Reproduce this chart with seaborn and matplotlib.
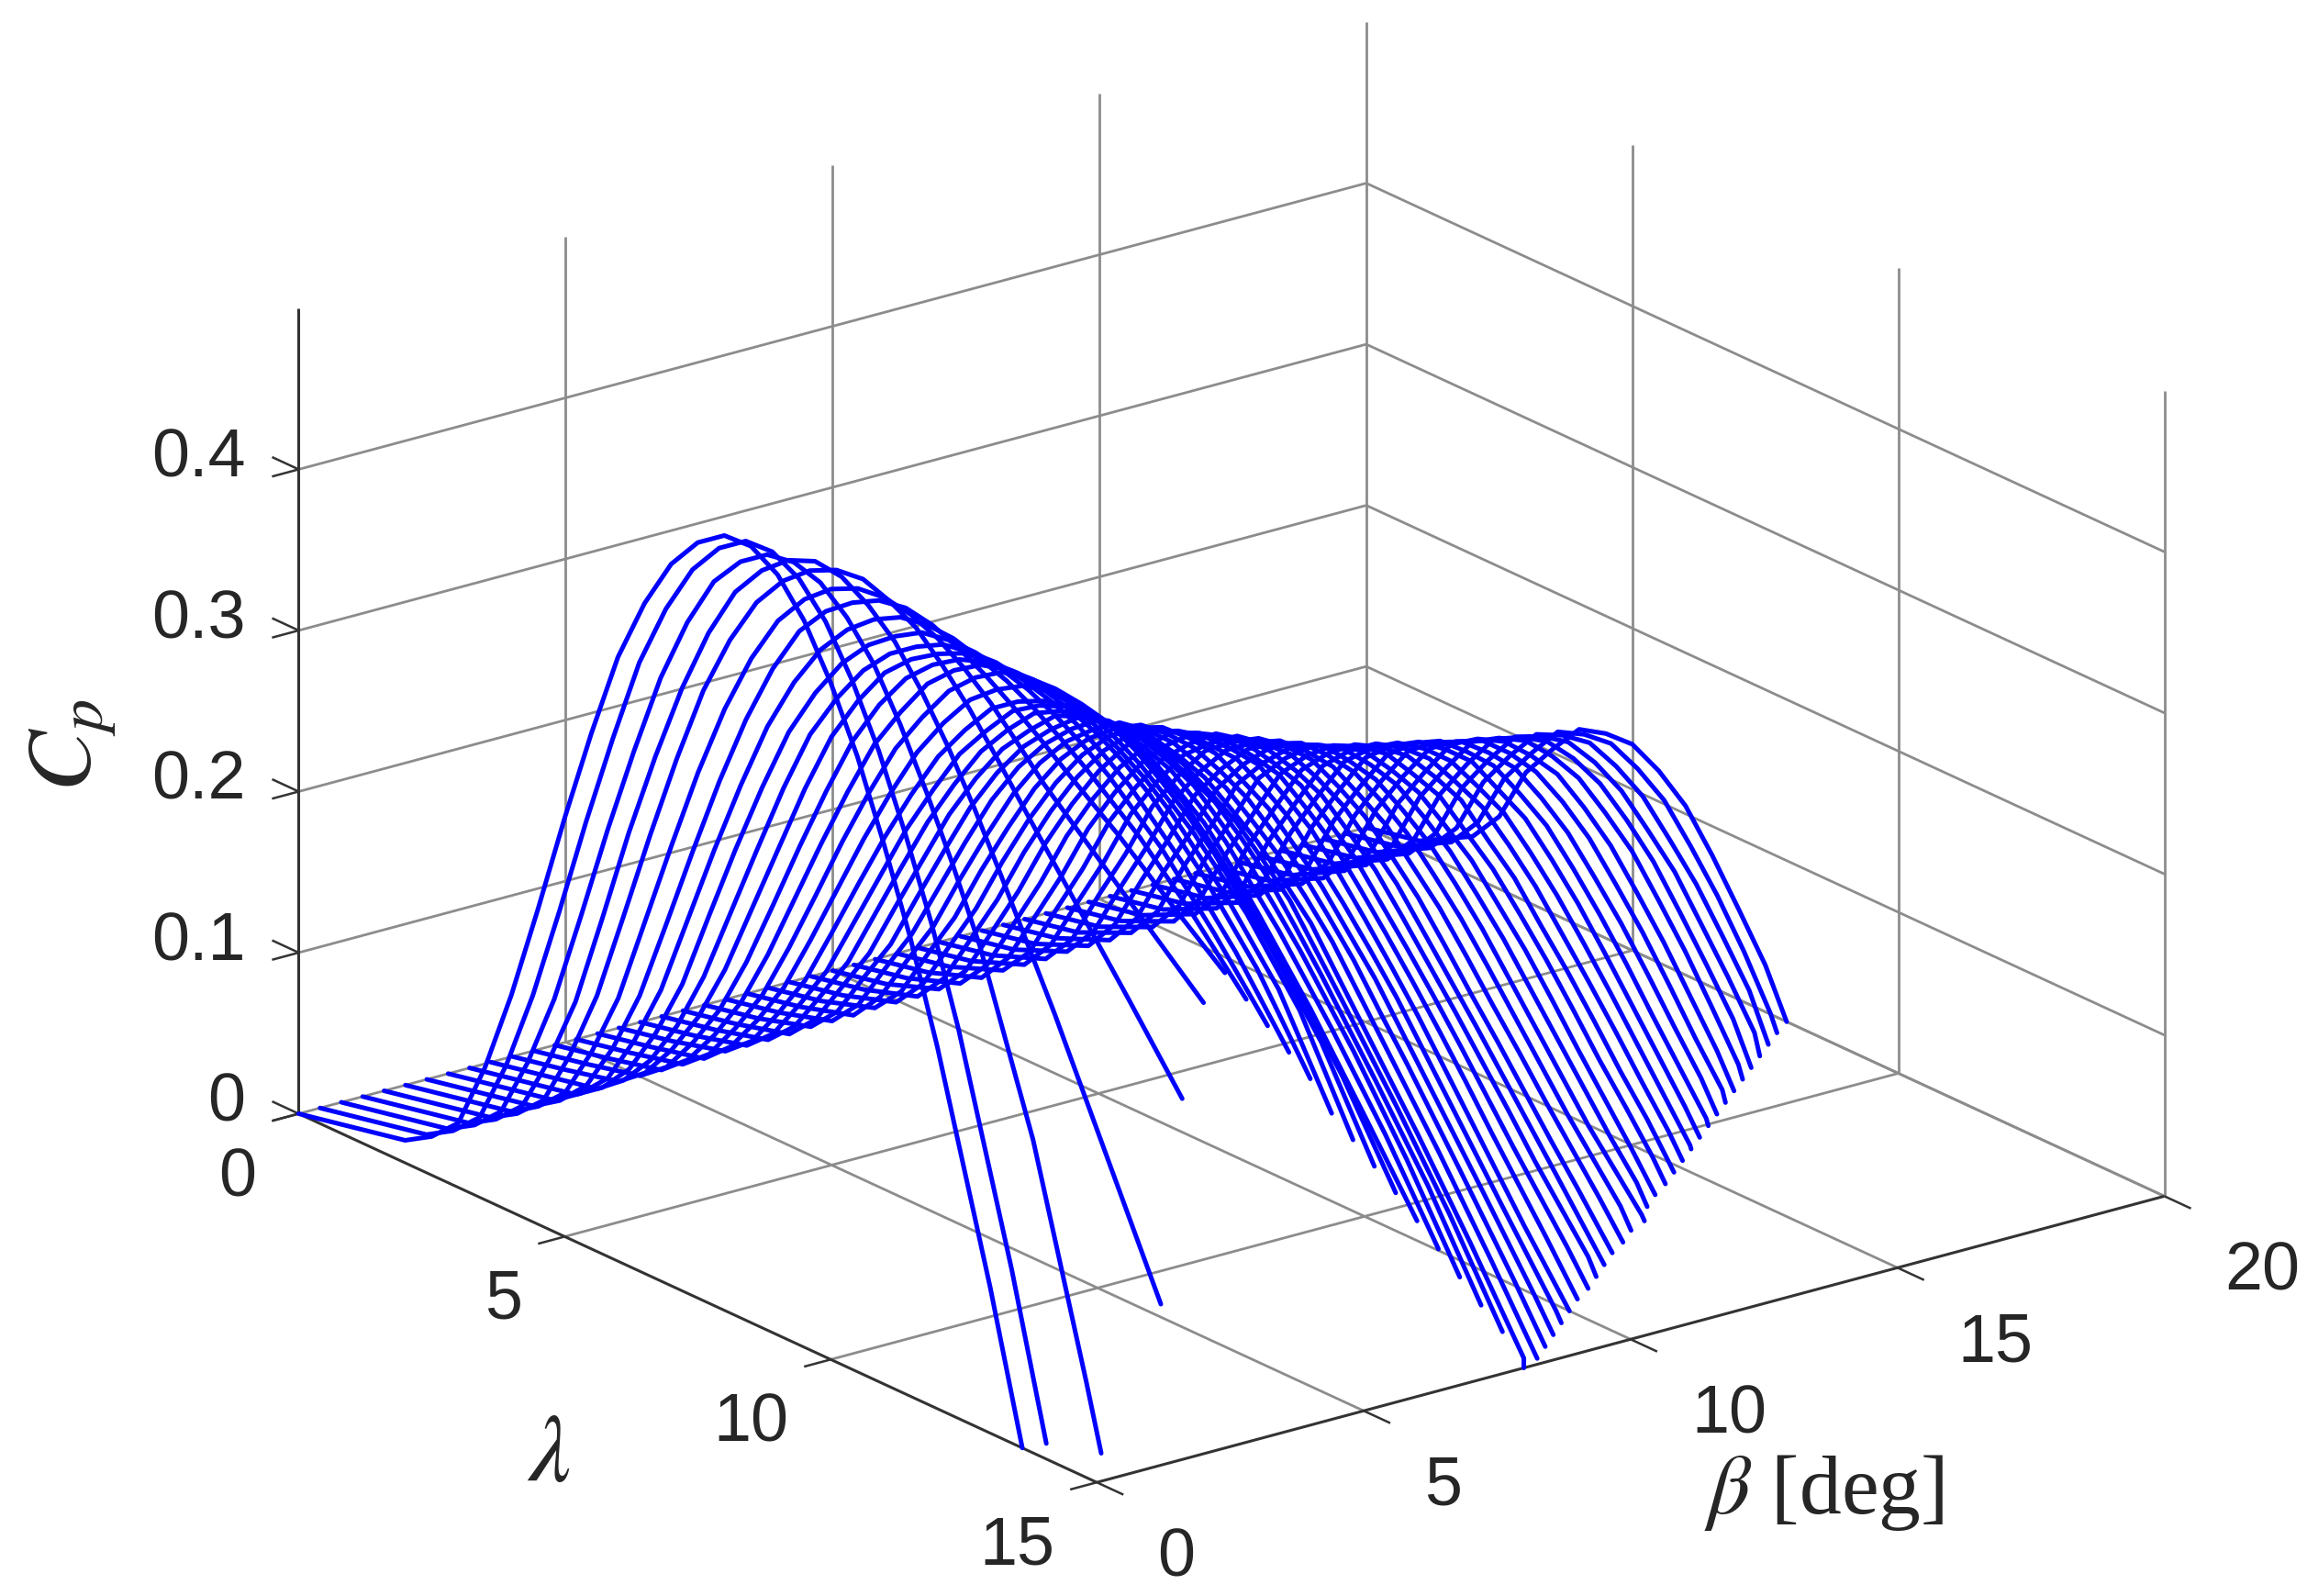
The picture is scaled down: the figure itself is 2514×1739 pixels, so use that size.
import numpy as np
import seaborn as sns
import matplotlib.pyplot as plt
from mpl_toolkits.mplot3d import proj3d

nan = np.nan

lam_grid = [0, 1, 2, 3, 4, 5, 6, 7, 8, 9, 10, 11, 12, 13, 14, 15]
lam_half = [2.5, 3.5, 4.5, 5.5, 6.5, 7.5, 8.5, 9.5, 10.5, 11.5]
beta_vals = [0.0, 0.4, 0.8, 1.2, 1.6, 2.0, 2.4, 2.8, 3.2, 3.6,
             4.0, 4.4, 4.8, 5.2, 5.6, 6.0, 6.4, 6.8, 7.2, 7.6,
             8.0, 8.4, 8.8, 9.2, 9.6, 10.0, 10.4, 10.8, 11.2, 11.6,
             12.0, 12.4, 12.8, 13.2, 13.6, 14.0, 14.4, 14.8, 15.2, 15.6,
             16.0, 16.4, 16.8, 17.2, 17.6, 18.0, 18.4, 18.8, 19.2, 19.6, 20.0]

# Cp, one row per beta, one column per lambda in lam_grid
cp_rows = [
    [0, .007, .014, .040, .135, .260, .375, .448, .481, .472, .420, .335, .225, .090, nan, nan],
    [0, .007, .014, .040, .131, .254, .368, .441, .474, .466, .418, .338, .232, .098, nan, nan],
    [0, .007, .014, .040, .125, .245, .355, .430, .462, .460, .425, .360, .280, .175, .040, nan],
    [0, .007, .014, .040, .120, .240, .345, .420, .455, .460, .435, .385, .320, .250, .175, .100],
    [0, .007, .014, .040, .120, .235, .340, .410, .445, .455, .440, .405, .360, .315, .270, .224],
    [0, .007, .014, .041, .115, .225, .325, .395, .430, .440, .430, .405, .370, .340, .310, .280],
    [0, .007, .014, .042, .113, .218, .315, .385, .418, .430, .420, .400, .375, .350, .322, .295],
    [0, .007, .014, .043, .113, .215, .307, .370, .404, .416, .410, .395, .372, .345, .312, .275],
    [0, .007, .014, .045, .113, .212, .300, .358, .390, .403, .400, .387, .365, .335, .297, .255],
    [0, .007, .014, .047, .114, .208, .295, .350, .380, .392, .390, .378, .355, .322, .282, .235],
    [0, .007, .015, .050, .115, .205, .290, .345, .372, .382, .380, .368, .345, .310, .268, .215],
    [0, .007, .015, .051, .116, .203, .284, .338, .365, .373, .370, .355, .330, .295, .252, .190],
    [0, .007, .015, .052, .117, .201, .278, .331, .358, .364, .360, .342, .315, .280, .235, .170],
    [0, .007, .015, .053, .118, .199, .272, .323, .350, .355, .349, .328, .298, .258, .212, .150],
    [0, .007, .015, .054, .119, .197, .266, .314, .338, .343, .335, .312, .277, .235, .187, .130],
    [0, .007, .016, .055, .120, .195, .260, .305, .325, .330, .320, .295, .255, .210, .160, .109],
    [0, .007, .016, .057, .122, .196, .258, .300, .318, .320, .308, .280, .240, .194, .144, .088],
    [0, .007, .016, .059, .124, .197, .256, .295, .310, .310, .296, .265, .224, .177, .125, .067],
    [0, .007, .016, .061, .126, .198, .254, .290, .302, .298, .282, .250, .205, .156, .105, .046],
    [0, .007, .017, .063, .128, .199, .252, .285, .294, .287, .266, .233, .185, .136, .084, .026],
    [0, .007, .017, .065, .130, .200, .250, .280, .285, .275, .250, .215, .165, .115, .062, .006],
    [0, .007, .017, .066, .132, .200, .248, .275, .278, .265, .238, .200, .150, .100, .047, nan],
    [0, .007, .018, .067, .134, .200, .246, .270, .271, .255, .226, .185, .136, .085, .033, nan],
    [0, .007, .018, .068, .136, .200, .244, .265, .264, .245, .212, .170, .120, .070, .019, nan],
    [0, .007, .018, .069, .138, .200, .242, .258, .257, .235, .198, .155, .105, .055, .006, nan],
    [0, .007, .019, .070, .140, .200, .240, .252, .250, .225, .185, .140, .090, .040, nan, nan],
    [0, .007, .019, .071, .141, .199, .236, .246, .240, .213, .172, .127, .078, .030, nan, nan],
    [0, .007, .019, .072, .142, .198, .232, .240, .230, .201, .159, .114, .066, .020, nan, nan],
    [0, .007, .020, .073, .143, .197, .228, .233, .220, .189, .146, .101, .054, .010, nan, nan],
    [0, .007, .020, .074, .144, .196, .223, .227, .210, .177, .133, .088, .042, nan, nan, nan],
    [0, .007, .020, .075, .145, .195, .218, .220, .200, .165, .120, .075, .030, nan, nan, nan],
    [0, .007, .021, .076, .145, .192, .213, .212, .191, .155, .110, .065, .021, nan, nan, nan],
    [0, .007, .021, .077, .145, .189, .208, .205, .182, .145, .100, .054, .012, nan, nan, nan],
    [0, .007, .021, .078, .145, .186, .203, .197, .173, .135, .089, .043, .003, nan, nan, nan],
    [0, .007, .022, .079, .145, .183, .197, .190, .164, .125, .079, .033, nan, nan, nan, nan],
    [0, .007, .022, .080, .145, .180, .192, .182, .155, .115, .068, .022, nan, nan, nan, nan],
    [0, .007, .022, .080, .144, .177, .187, .176, .146, .105, .058, .013, nan, nan, nan, nan],
    [0, .007, .023, .081, .143, .174, .182, .170, .137, .094, .047, nan, nan, nan, nan, nan],
    [0, .007, .023, .081, .142, .171, .177, .162, .128, .084, .037, nan, nan, nan, nan, nan],
    [0, .007, .023, .082, .141, .168, .172, .155, .119, .074, .026, nan, nan, nan, nan, nan],
    [0, .007, .024, .082, .140, .165, .168, .148, .110, .063, .015, nan, nan, nan, nan, nan],
    [0, .007, .024, .082, .138, .162, .162, .140, .100, .052, .004, nan, nan, nan, nan, nan],
    [0, .007, .024, .082, .137, .158, .157, .132, .091, .042, nan, nan, nan, nan, nan, nan],
    [0, .007, .024, .082, .135, .155, .151, .125, .082, .031, nan, nan, nan, nan, nan, nan],
    [0, .007, .025, .082, .134, .151, .146, .117, .072, .020, nan, nan, nan, nan, nan, nan],
    [0, .007, .025, .082, .132, .148, .140, .110, .063, .008, nan, nan, nan, nan, nan, nan],
    [0, .007, .025, .081, .130, .144, .133, .100, .051, nan, nan, nan, nan, nan, nan, nan],
    [0, .007, .025, .081, .128, .140, .125, .090, .040, nan, nan, nan, nan, nan, nan, nan],
    [0, .007, .025, .081, .126, .136, .118, .079, .028, nan, nan, nan, nan, nan, nan, nan],
    [0, .007, .025, .080, .124, .132, .112, .068, .010, nan, nan, nan, nan, nan, nan, nan],
    [0, .007, .025, .080, .122, .128, .105, .056, nan, nan, nan, nan, nan, nan, nan, nan],
]

# same curves at the half steps in lam_half
cp_half = [
    [.024, .082, .196, .320, .416, .469, .482, .451, .382, .284],
    [.024, .080, .191, .313, .409, .462, .475, .447, .382, .289],
    [.024, .078, .184, .302, .397, .450, .465, .446, .395, .322],
    [.024, .076, .179, .295, .387, .441, .462, .450, .412, .354],
    [.024, .076, .177, .290, .379, .431, .453, .449, .424, .383],
    [.025, .074, .170, .278, .364, .416, .438, .437, .419, .388],
    [.025, .073, .165, .269, .354, .405, .427, .427, .411, .388],
    [.026, .074, .164, .263, .342, .390, .413, .415, .404, .384],
    [.026, .075, .163, .258, .332, .377, .400, .403, .395, .377],
    [.027, .076, .161, .254, .325, .368, .389, .393, .385, .367],
    [.028, .078, .160, .250, .320, .361, .380, .383, .375, .358],
    [.028, .079, .159, .245, .314, .354, .371, .373, .364, .344],
    [.029, .080, .159, .241, .306, .347, .363, .363, .352, .329],
    [.029, .081, .158, .237, .299, .339, .354, .353, .340, .314],
    [.030, .082, .158, .233, .292, .328, .342, .340, .324, .295],
    [.030, .083, .158, .229, .284, .317, .329, .326, .308, .276],
    [.031, .085, .159, .228, .280, .311, .320, .315, .295, .260],
    [.032, .087, .161, .228, .277, .304, .311, .304, .281, .245],
    [.033, .089, .162, .228, .273, .297, .301, .291, .267, .228],
    [.034, .091, .164, .228, .270, .291, .291, .277, .250, .209],
    [.035, .094, .166, .228, .267, .284, .281, .263, .233, .190],
    [.036, .095, .167, .227, .263, .278, .272, .252, .220, .175],
    [.036, .097, .168, .226, .260, .272, .264, .241, .206, .160],
    [.037, .099, .170, .225, .257, .266, .255, .229, .191, .145],
    [.037, .101, .171, .224, .252, .258, .247, .217, .177, .130],
    [.038, .103, .172, .223, .248, .252, .238, .206, .163, .115],
    [.038, .104, .172, .220, .243, .244, .227, .193, .150, .103],
    [.039, .105, .172, .217, .238, .236, .216, .180, .137, .090],
    [.039, .106, .172, .214, .232, .228, .205, .168, .124, .078],
    [.040, .107, .172, .211, .226, .220, .194, .155, .111, .065],
    [.040, .108, .172, .208, .221, .211, .183, .143, .098, .052],
    [.041, .109, .171, .204, .214, .202, .173, .133, .088, .043],
    [.042, .110, .169, .200, .208, .195, .164, .123, .077, .033],
    [.042, .110, .168, .196, .201, .186, .155, .112, .066, .023],
    [.043, .111, .166, .192, .195, .178, .145, .102, .056, .012],
    [.043, .112, .165, .188, .188, .169, .135, .092, .045, nan],
    [.044, .112, .163, .184, .182, .161, .126, .082, .036, nan],
    [.044, .112, .161, .180, .177, .153, .115, .071, .025, nan],
    [.045, .112, .159, .176, .170, .146, .106, .061, .014, nan],
    [.045, .112, .157, .172, .164, .138, .097, .050, .002, nan],
    [.045, .112, .155, .168, .158, .130, .087, .039, nan, nan],
    [.045, .111, .153, .163, .152, .121, .077, .028, nan, nan],
    [.045, .111, .150, .159, .146, .112, .067, .018, nan, nan],
    [.045, .110, .147, .155, .140, .104, .057, .007, nan, nan],
    [.045, .109, .145, .150, .133, .095, .046, nan, nan, nan],
    [.045, .108, .142, .146, .126, .087, .036, nan, nan, nan],
    [.045, .107, .139, .141, .118, .076, .025, nan, nan, nan],
    [.045, .106, .136, .135, .108, .065, .013, nan, nan, nan],
    [.045, .105, .133, .129, .099, .054, nan, nan, nan, nan],
    [.045, .103, .130, .124, .091, .041, nan, nan, nan, nan],
    [.045, .102, .127, .119, .082, .029, nan, nan, nan, nan],
]

# lambda where each curve reaches Cp = 0 (nan: curve runs on to lambda = 15)
lam_end = [13.6, 13.65, 14.28, nan, nan, nan, nan, nan, nan, nan,
           nan, nan, nan, nan, nan, nan, nan, nan, nan, nan,
           15.0, 14.85, 14.6, 14.35, 14.1, 13.85, 13.6, 13.4, 13.15, 12.9,
           12.65, 12.45, 12.2, 12.05, 11.7, 11.45, 11.24, 11.0, 10.76, 10.52,
           10.28, 10.04, 9.8, 9.56, 9.32, 9.08, 8.84, 8.6, 8.36, 8.12, 7.9]

lam_ticks = [0, 5, 10, 15]
beta_ticks = [0, 5, 10, 15, 20]
cp_ticks = [0, 0.1, 0.2, 0.3, 0.4]
cp_tick_labels = ['0', '0.1', '0.2', '0.3', '0.4']

sns.set_theme(style='white')
plt.rcParams['font.family'] = ['Liberation Sans', 'DejaVu Sans']
plt.rcParams['mathtext.fontset'] = 'stix'

BLUE = sns.color_palette(['#0000ff'])[0]
GRID = '#8c8c8c'
AXIS = '#333333'
TEXT = '#262626'
W, H = 2514, 1739

fig = plt.figure(figsize=(12.57, 8.695), dpi=200)
ax = fig.add_axes([0, 0, 1, 1], projection='3d', proj_type='ortho')
ax.computed_zorder = False
ax.set_xlim(0, 15, view_margin=0)
ax.set_ylim(0, 20, view_margin=0)
ax.set_zlim(0, 0.5, view_margin=0)
ax.view_init(elev=20.6, azim=-37.3)
aspect = (894, 911, 584)
ax.set_box_aspect(aspect, zoom=1)
ax.set_axis_off()


def to_px(x, y, z):
    px, py, _ = proj3d.proj_transform(x, y, z, ax.get_proj())
    return ax.transData.transform((px, py))


# fit the box onto the picture: origin corner and length of the lambda axis
fig.canvas.draw()
cur = np.linalg.norm(to_px(15, 0, 0) - to_px(0, 0, 0))
ax.set_box_aspect(aspect, zoom=958 / cur)
fig.canvas.draw()
o = to_px(0, 0, 0)
ax.set_position([(325.5 - o[0]) / W, (525.5 - o[1]) / H, 1, 1])
fig.canvas.draw()


def seg(xs, ys, zs, color=GRID, lw=1.0, z=1):
    ax.plot(xs, ys, zs, color=color, lw=lw, zorder=z, clip_on=False, solid_capstyle='butt')


def label(x, y, z, s, dx, dy, ha, fs=26.5):
    # dx, dy: offset from the tick in picture pixels, y downwards
    p = to_px(x, y, z)
    fig.text((p[0] + dx) / W, (p[1] - dy) / H, s, ha=ha, va='center', fontsize=fs, color=TEXT)


# walls and floor
for c in cp_ticks:
    seg([0, 0], [0, 20], [c, c])
    seg([0, 15], [20, 20], [c, c])
for b in beta_ticks[1:]:
    seg([0, 0], [b, b], [0, 0.5])
    seg([0, 15], [b, b], [0, 0])
for l in lam_ticks[1:]:
    seg([l, l], [20, 20], [0, 0.5])
for l in lam_ticks[1:3]:
    seg([l, l], [0, 20], [0, 0])

# front axes and tick stubs
seg([0, 0], [0, 0], [0, 0.5], AXIS, 1.1, 2)
seg([0, 15], [0, 0], [0, 0], AXIS, 1.1, 2)
seg([15, 15], [0, 20], [0, 0], AXIS, 1.1, 2)
for c in cp_ticks:
    seg([0, 0], [0, -0.5], [c, c], AXIS, 0.9, 2)
    seg([0, -0.5], [0, 0], [c, c], AXIS, 0.9, 2)
for l in lam_ticks:
    seg([l, l], [0, -0.5], [0, 0], AXIS, 0.9, 2)
for b in beta_ticks:
    seg([15, 15.5], [b, b], [0, 0], AXIS, 0.9, 2)

# one line per beta
lam_all = np.array(lam_grid + lam_half, dtype=float)
order = np.argsort(lam_all)
for b, row, half, end in zip(beta_vals, cp_rows, cp_half, lam_end):
    vals = np.array(row + half, dtype=float)[order]
    keep = ~np.isnan(vals)
    xs = lam_all[order][keep]
    zs = vals[keep]
    if not np.isnan(end):
        xs = np.append(xs, end)
        zs = np.append(zs, 0)
    ax.plot(xs, np.full(len(xs), b), zs, color=BLUE, lw=1.8, zorder=3, clip_on=False)

# tick labels and axis labels
for c, s in zip(cp_ticks, cp_tick_labels):
    label(0, 0, c, s, -58, -11, 'right')
for l in lam_ticks:
    label(l, 0, 0, str(l), -46, 70, 'right')
for b in beta_ticks:
    label(15, b, 0, str(b), 66, 83, 'left')

fig.text(373 / 1568, 1 - 990 / 1085, r'$\lambda$', ha='center', va='center', fontsize=37, color=TEXT)
fig.text(1240 / 1568, 1 - 1015 / 1085, r'$\beta$ [deg]', ha='center', va='center', fontsize=33,
         color=TEXT, family='Liberation Serif')
fig.text(50 / 1568, 1 - 507 / 1085, r'$C_p$', ha='center', va='center', rotation=90, fontsize=36, color=TEXT)

fig.savefig('out.png', dpi=200)
